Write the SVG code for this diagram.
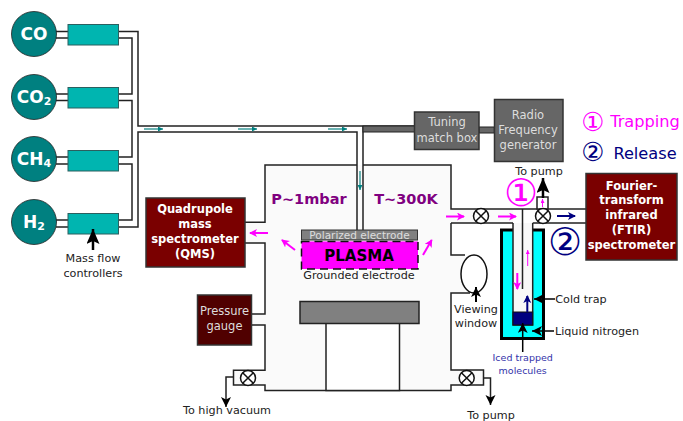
<svg xmlns="http://www.w3.org/2000/svg" width="683" height="421" viewBox="0 0 683 421">
<style>
text{font-family:"DejaVu Sans",Verdana,sans-serif;text-anchor:middle;dominant-baseline:central}
.p{fill:none;stroke:#222;stroke-width:1.5}
.gas{fill:#008080;stroke:#222;stroke-width:.8}
.gt{fill:#fff;font-weight:bold;font-size:17px}
.mfc{fill:#00b5b0;stroke:#2b5f5f;stroke-width:1}
.box{stroke:#333;stroke-width:1.5}
.w{fill:#fff;font-weight:bold;font-size:11.5px}
.g{fill:#ddd;font-size:11.5px}
.k{fill:#222;font-size:11.2px}
.v{fill:#fff;stroke:#111;stroke-width:1.5}
.mg{stroke:#f0f;fill:none}
.tl{stroke:#3a9a9a;fill:none;stroke-width:1.5}
</style>
<defs>
<marker id="am" markerUnits="userSpaceOnUse" markerWidth="9" markerHeight="9" refX="7" refY="4" orient="auto"><path d="M0 0L8 4L0 8L2 4Z" fill="#f0f"/></marker>
<marker id="amt" markerUnits="userSpaceOnUse" markerWidth="5" markerHeight="5" refX="4" refY="2" orient="auto"><path d="M0 0L4 2L0 4Z" fill="#f0f"/></marker>
<marker id="an" markerUnits="userSpaceOnUse" markerWidth="9" markerHeight="9" refX="7" refY="4" orient="auto"><path d="M0 0L8 4L0 8L2 4Z" fill="#000080"/></marker>
<marker id="at" markerUnits="userSpaceOnUse" markerWidth="6" markerHeight="6" refX="5" refY="2.500" orient="auto"><path d="M0 0L5 2.500L0 5Z" fill="#008080"/></marker>
<marker id="ak" markerUnits="userSpaceOnUse" markerWidth="12" markerHeight="12" refX="10" refY="5" orient="auto"><path d="M0 0L10 5L0 10L2.500 5Z" fill="#000"/></marker>
<marker id="al" markerUnits="userSpaceOnUse" markerWidth="17" markerHeight="14" refX="15" refY="6.500" orient="auto"><path d="M0 0L15 6.500L0 13L3 6.500Z" fill="#000"/></marker>
</defs>

<path d="M265 165H451V209H513V223H451V255H465V293H451V370H483V385H451V390.500H265V385H234V370H265V325H252V314H265V243H245V222H265Z" fill="#fafafa"/>

<g id="connectors">
<path class="p" d="M56 31.500H68M56 38H68M56 94H68M56 100.500H68M56 157H68M56 164H68M56 220H68M56 227H68"/>
<path class="p" d="M118 31.500H138V126H414M118 38H132V94H118M118 100.500H132V157H118M118 164H132V220H118M118 227H138V132H357V230M363 126V230"/>
<rect x="363" y="126" width="51.500" height="6" fill="#666" stroke="#222" stroke-width="1"/>
<rect x="479" y="127" width="15.300" height="6" fill="#666" stroke="#222" stroke-width="1"/>
<path class="p" d="M245 222.300H265V165H357M363 165H451V209H586M245 243H265V314H252M252 325H265V370.300H233.500V385H265V390.500H451V385H483.500V370H451V293H470M451 223V255H465M451 223H513M532.700 223H586"/>
<path class="p" d="M233.500 377H226V407" marker-end="url(#ak)"/>
<path class="p" d="M483.500 378H490.500V405" marker-end="url(#ak)"/>
<path class="tl" d="M144 129H163" marker-end="url(#at)"/>
<path class="tl" d="M238 129H257" marker-end="url(#at)"/>
<path class="tl" d="M328 129H347" marker-end="url(#at)"/>
<path class="tl" d="M360 171V190" marker-end="url(#at)"/>
</g>

<g id="gas-co"><circle class="gas" cx="34" cy="34" r="22.500"/><text class="gt" x="34" y="34">CO</text></g>
<g id="gas-co2"><circle class="gas" cx="34" cy="97" r="22.500"/><text class="gt" x="34" y="97">CO<tspan font-size="11" dy="4">2</tspan></text></g>
<g id="gas-ch4"><circle class="gas" cx="34" cy="159" r="22.500"/><text class="gt" x="34" y="159">CH<tspan font-size="11" dy="4">4</tspan></text></g>
<g id="gas-h2"><circle class="gas" cx="34" cy="222" r="22.500"/><text class="gt" x="34" y="222">H<tspan font-size="11" dy="4">2</tspan></text></g>

<g id="mfc-co"><rect class="mfc" x="68" y="24.500" width="50.500" height="20.500"/></g>
<g id="mfc-co2"><rect class="mfc" x="68" y="87.500" width="50.500" height="20.500"/></g>
<g id="mfc-ch4"><rect class="mfc" x="68" y="150.500" width="50.500" height="20.500"/></g>
<g id="mfc-h2"><rect class="mfc" x="68" y="213.500" width="50.500" height="20.500"/></g>

<g id="mfc-label">
<path d="M93 250V229" stroke="#000" stroke-width="2.500" marker-end="url(#al)"/>
<text class="k" x="93" y="258">Mass flow</text><text class="k" x="93" y="273">controllers</text>
</g>

<g id="qms"><rect class="box" x="146" y="198" width="99" height="69" fill="#7a0000"/>
<text class="w" x="195" y="209">Quadrupole</text><text class="w" x="195" y="224">mass</text><text class="w" x="195" y="239">spectrometer</text><text class="w" x="195" y="254">(QMS)</text></g>

<g id="gauge"><rect class="box" x="197.500" y="295" width="54" height="50" fill="#500000"/>
<text class="g" x="224.500" y="311">Pressure</text><text class="g" x="224.500" y="326">gauge</text></g>

<g id="tuning"><rect class="box" x="414.500" y="112" width="64.500" height="37.500" fill="#666" stroke="#444"/>
<text class="g" x="447" y="122">Tuning</text><text class="g" x="447" y="138">match box</text></g>
<g id="rf"><rect class="box" x="494.500" y="99.500" width="68.500" height="62" fill="#666" stroke="#444"/>
<text class="g" x="528" y="115">Radio</text><text class="g" x="528" y="130">Frequency</text><text class="g" x="528" y="145">generator</text></g>

<g id="chamber-labels">
<text x="309" y="199" font-size="14.500" font-weight="bold" fill="#800080">P~1mbar</text>
<text x="406" y="199" font-size="14.500" font-weight="bold" fill="#800080">T~300K</text>
</g>

<g id="electrodes">
<rect x="301.500" y="230" width="116" height="10" fill="#808080" stroke="#333"/>
<text x="359.500" y="235" font-size="10.500" fill="#ddd">Polarized electrode</text>
<rect x="301.500" y="241.500" width="116.500" height="27.500" fill="#f0f" stroke="#111" stroke-width="1.500" stroke-dasharray="8 5"/>
<text x="359" y="255.500" font-size="15" font-weight="bold" fill="#000">PLASMA</text>
<text x="359" y="275.500" class="k">Grounded electrode</text>
</g>

<g id="pedestal">
<rect x="326" y="323" width="73.500" height="67.500" fill="#fff" stroke="#222" stroke-width="1.500"/>
<rect x="300" y="301.500" width="119" height="22" fill="#808080" stroke="#222" stroke-width="1.500"/>
</g>

<g id="window"><ellipse cx="474" cy="274" rx="13" ry="19" fill="#fff" stroke="#111" stroke-width="1.500"/>
<path d="M476 302V287" stroke="#000" stroke-width="2" marker-end="url(#ak)"/>
<text class="k" x="476" y="309">Viewing</text><text class="k" x="476" y="323.500">window</text></g>

<g id="cold-trap">
<rect x="501.500" y="230" width="42" height="108.500" fill="#0ff"/>
<path d="M513 230H501.500V338.500H543.500V230H532.700" fill="none" stroke="#000" stroke-width="3"/>
<path d="M513 223V325H532.700V223" fill="#f8f8f8" stroke="#222" stroke-width="1.500"/>
<rect x="513" y="312" width="19.700" height="13" fill="#000080" stroke="#111"/>
<path d="M522.500 209V289" fill="none" stroke="#222" stroke-width="1.500"/>
<path d="M527.700 266V250" class="mg" stroke-width="1" marker-end="url(#amt)"/>
<path d="M517.300 273V289" class="mg" stroke-width="2" marker-end="url(#am)"/>
<path d="M527.300 312V296" stroke="#000080" stroke-width="2" fill="none" marker-end="url(#an)"/>
<path d="M555 299H534" stroke="#000" stroke-width="1.500" marker-end="url(#ak)"/>
<path d="M554 331H532" stroke="#000" stroke-width="1.500" marker-end="url(#ak)"/>
<path d="M522.700 352V323" stroke="#000" stroke-width="1.500" marker-end="url(#ak)"/>
<text class="k" x="581" y="299">Cold trap</text>
<text class="k" x="597" y="331">Liquid nitrogen</text>
<text x="522.700" y="357" font-size="9.500" fill="#3333aa">Iced trapped</text>
<text x="522.700" y="370" font-size="9.500" fill="#3333aa">molecules</text>
</g>

<g id="pump-stub">
<rect x="537" y="197" width="11" height="12" fill="#fff" stroke="#222" stroke-width="1.500"/>
<path d="M543 198V178" stroke="#000" stroke-width="2.500" marker-end="url(#al)"/>
<path d="M542.500 207V199" class="mg" stroke-width="1" marker-end="url(#amt)"/>
<text class="k" x="539" y="171">To pump</text>
</g>

<g id="valves">
<g id="valve1"><circle class="v" cx="481" cy="216" r="7.500"/><path d="M475.700 210.700L486.300 221.300M486.300 210.700L475.700 221.300" stroke="#111" stroke-width="1.500"/></g>
<g id="valve2"><circle class="v" cx="543" cy="216" r="7.500"/><path d="M537.700 210.700L548.300 221.300M548.300 210.700L537.700 221.300" stroke="#111" stroke-width="1.500"/></g>
<g id="valve3"><circle class="v" cx="466.700" cy="378" r="7.500"/><path d="M461.400 372.700L472 383.300M472 372.700L461.400 383.300" stroke="#111" stroke-width="1.500"/></g>
<g id="valve4"><circle class="v" cx="248" cy="378" r="7.500"/><path d="M242.700 372.700L253.300 383.300M253.300 372.700L242.700 383.300" stroke="#111" stroke-width="1.500"/></g>
</g>

<g id="flow-arrows">
<path d="M268 233H250" class="mg" stroke-width="2" marker-end="url(#am)"/>
<path d="M295 250L282 240" class="mg" stroke-width="2" marker-end="url(#am)"/>
<path d="M423 255L431.700 240" class="mg" stroke-width="2" marker-end="url(#am)"/>
<path d="M446 216.500H464" class="mg" stroke-width="2" marker-end="url(#am)"/>
<path d="M498 216.500H516" class="mg" stroke-width="2" marker-end="url(#am)"/>
<path d="M557 216H575" stroke="#000080" stroke-width="2" fill="none" marker-end="url(#an)"/>
</g>

<g id="ftir"><rect class="box" x="586" y="173.500" width="91" height="86.500" fill="#7a0000"/>
<text class="w" x="631.500" y="186">Fourier-</text><text class="w" x="631.500" y="200">transform</text><text class="w" x="631.500" y="215">infrared</text><text class="w" x="631.500" y="230">(FTIR)</text><text class="w" x="631.500" y="245">spectrometer</text></g>

<g id="legend">
<text x="521" y="192.500" font-size="38" fill="#f0f">①</text>
<text x="565" y="241.500" font-size="38" fill="#000080">②</text>
<text x="593" y="122" font-size="26" fill="#f0f">①</text>
<text x="645" y="121" font-size="16.200" fill="#f0f">Trapping</text>
<text x="593" y="152" font-size="26" fill="#000080">②</text>
<text x="645" y="153" font-size="16.200" fill="#000080">Release</text>
</g>

<g id="vac-labels">
<text class="k" x="227" y="410">To high vacuum</text>
<text class="k" x="491" y="415">To pump</text>
</g>
</svg>
